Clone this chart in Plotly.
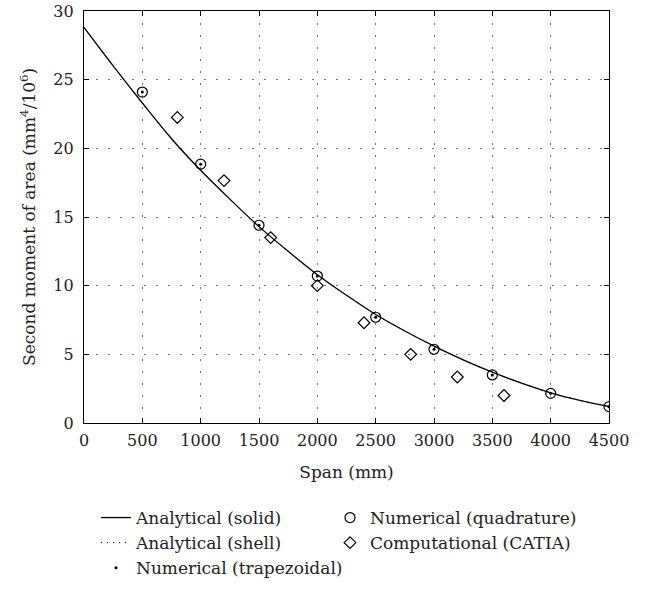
import plotly.graph_objects as go

# Analytical curve
curve_x = [0, 250, 500, 750, 1000, 1250, 1500, 1750, 2000, 2250, 2500, 2750,
           3000, 3250, 3500, 3750, 4000, 4250, 4500]
curve_solid = [28.8, 26.0, 23.3, 20.7, 18.4, 16.3, 14.3, 12.5, 10.8, 9.3, 7.9,
               6.7, 5.6, 4.6, 3.7, 2.9, 2.2, 1.65, 1.2]
curve_shell = [28.8, 26.0, 23.3, 20.7, 18.4, 16.3, 14.3, 12.5, 10.8, 9.3, 7.9,
               6.7, 5.6, 4.6, 3.7, 2.9, 2.2, 1.65, 1.2]

# Numerical points
num_x = [500, 1000, 1500, 2000, 2500, 3000, 3500, 4000, 4500]
quad_y = [24.1, 18.85, 14.4, 10.7, 7.7, 5.37, 3.5, 2.16, 1.19]
trap_y = [24.1, 18.85, 14.4, 10.7, 7.7, 5.37, 3.5, 2.16, 1.19]

# Computational (CATIA)
catia_x = [800, 1200, 1600, 2000, 2400, 2800, 3200, 3600]
catia_y = [22.25, 17.65, 13.5, 10.0, 7.3, 5.0, 3.35, 2.0]

x_ticks = [0, 500, 1000, 1500, 2000, 2500, 3000, 3500, 4000, 4500]
y_ticks = [0, 5, 10, 15, 20, 25, 30]

FONT = "DejaVu Serif"
W, H = 649, 591

fig = go.Figure()
fig.add_trace(go.Scatter(x=curve_x, y=curve_solid, mode="lines", line_shape="spline",
                         line=dict(color="black", width=1.3),
                         name="Analytical (solid)", legend="legend"))
fig.add_trace(go.Scatter(x=curve_x, y=curve_shell, mode="lines", line_shape="spline",
                         line=dict(color="black", width=1, dash="1px,5px"),
                         name="Analytical (shell)", legend="legend"))
fig.add_trace(go.Scatter(x=num_x, y=trap_y, mode="markers",
                         marker=dict(symbol="circle", size=3, color="black"),
                         name="Numerical (trapezoidal)", legend="legend"))
fig.add_trace(go.Scatter(x=num_x, y=quad_y, mode="markers",
                         marker=dict(symbol="circle-open", size=10, color="black",
                                     line=dict(width=1.2, color="black")),
                         name="Numerical (quadrature)", legend="legend2"))
fig.add_trace(go.Scatter(x=catia_x, y=catia_y, mode="markers",
                         marker=dict(symbol="diamond-open", size=9, color="black",
                                     line=dict(width=1.2, color="black")),
                         name="Computational (CATIA)", legend="legend2"))

axis_common = dict(showline=True, linecolor="black", linewidth=1.3, mirror="ticks",
                   ticks="inside", ticklen=5, tickcolor="black", ticklabeloverflow="allow",
                   showgrid=True, gridcolor="#777777", griddash="1.5px,10.5px", gridwidth=1.2,
                   zeroline=False, tickfont=dict(family=FONT, size=16, color="#222222"))

fig.update_xaxes(range=[0, 4500], tickvals=x_ticks, ticklabelstandoff=3,
                 title=dict(text="Span (mm)", font=dict(family=FONT, size=17, color="#222222"),
                            standoff=16),
                 **axis_common)
fig.update_yaxes(range=[0, 30], tickvals=y_ticks, ticklabelstandoff=6, **axis_common)

fig.add_annotation(text="Second moment of area (mm<sup>4</sup>/10<sup>6</sup>)",
                   xref="paper", yref="paper", x=(28 - 84) / 525, y=0.5,
                   xanchor="center", yanchor="middle", textangle=-90, showarrow=False,
                   font=dict(family=FONT, size=17, color="#222222"))

legend_common = dict(xref="container", yref="container", yanchor="top", xanchor="left",
                     bgcolor="rgba(0,0,0,0)", font=dict(family=FONT, size=17, color="#222222"),
                     tracegroupgap=0, itemwidth=30)

fig.update_layout(
    width=W, height=H,
    margin=dict(l=84, r=40, t=11, b=168, autoexpand=False),
    plot_bgcolor="white", paper_bgcolor="white",
    font=dict(family=FONT, size=16, color="#222222"),
    legend=dict(x=96 / W, y=1 - 500 / H, traceorder="normal", **legend_common),
    legend2=dict(x=330 / W, y=1 - 500 / H, traceorder="normal", **legend_common),
)

fig.write_html("out.html", config={"displayModeBar": False},
               post_script="document.body.style.margin='0px';")
